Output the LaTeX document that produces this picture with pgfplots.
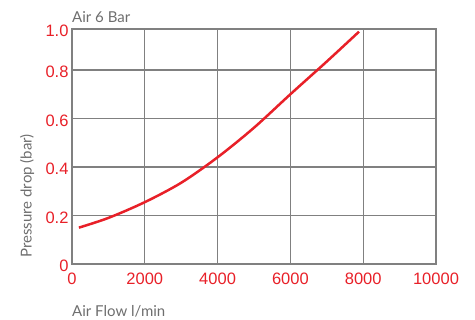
\documentclass[border=0pt]{standalone}
\usepackage{pgfplots}
\pgfplotsset{compat=1.18}
\usepackage{fontspec}
\setmainfont{Liberation Sans}
\newfontfamily\labelfont{Lato}
\definecolor{cred}{RGB}{232,32,40}
\definecolor{cgrid}{RGB}{128,128,128}
\definecolor{ctext}{RGB}{110,110,110}
\begin{document}
\begin{tikzpicture}
\useasboundingbox (-72bp,-56bp) rectangle (403bp,264bp);
\begin{axis}[
  at={(0,0)}, anchor=origin,
  scale only axis,
  width=364bp, height=235bp,
  xmin=0, xmax=10000, ymin=0, ymax=0.969,
  xtick={0,2000,4000,6000,8000,10000},
  xticklabels={0,2000,4000,6000,8000,10000},
  ytick={0,0.2,0.4,0.6,0.8,0.969},
  yticklabels={0,0.2,0.4,0.6,0.8,1.0},
  scaled x ticks=false,
  grid=major,
  major grid style={cgrid, line width=1.3bp},
  axis line style={cgrid, line width=1.3bp},
  major tick length=0pt,
  tick style={draw=none},
  ticklabel style={font=\fontsize{16.5bp}{18bp}\selectfont, text=cred},
  xticklabel style={yshift=-5bp},
  yticklabel style={yshift=-2bp},
  clip=false,
]
\addplot[cred, line width=2.5bp, smooth] coordinates {
 (190,0.150) (1000,0.190) (2000,0.255) (3000,0.335) (4000,0.440)
 (5000,0.562) (6000,0.700) (7000,0.835) (7885,0.958)
};
\node[anchor=base west, inner sep=0, text=ctext, font=\labelfont\fontsize{15bp}{17bp}\selectfont] at (rel axis cs:0,1) [yshift=6.3bp] {Air 6 Bar};
\node[anchor=base west, inner sep=0, text=ctext, font=\labelfont\fontsize{15bp}{17bp}\selectfont] at (rel axis cs:0,0) [yshift=-52bp] {Air Flow l/min};
\node[rotate=90, inner sep=0, text=ctext, font=\labelfont\fontsize{15bp}{17bp}\selectfont] at ([xshift=-45bp]rel axis cs:0,0.29) {Pressure drop (bar)};
\end{axis}
\end{tikzpicture}
\end{document}
